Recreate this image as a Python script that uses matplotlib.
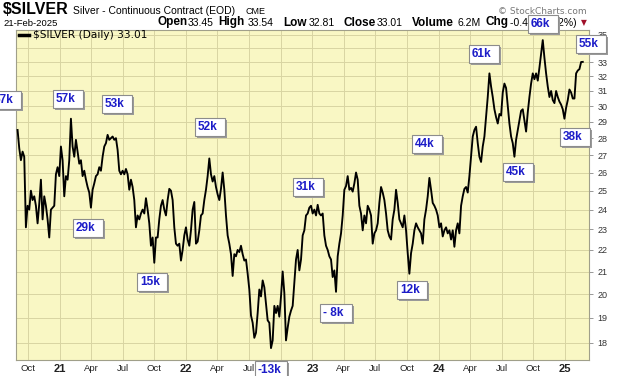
import pandas as pd
import matplotlib
matplotlib.use("Agg")
import matplotlib.pyplot as plt
import matplotlib.dates as mdates
from matplotlib.patches import Rectangle
from matplotlib.lines import Line2D
from matplotlib.ticker import FixedLocator, FixedFormatter, NullLocator, NullFormatter

W, H = 620, 376

# $SILVER daily closes, one value about every 5 calendar days
close_2020_21 = [28.5, 27.4, 26.7, 27.2, 26.9, 23.1, 24.2, 24.0, 25.0, 24.5,
                 24.7, 24.2, 23.3, 24.3, 25.6, 23.5, 24.7, 24.2, 23.5, 22.6,
                 24.0, 24.1, 24.2, 25.9, 26.3, 25.8, 27.5, 26.7, 24.7, 25.8,
                 25.6, 26.7, 29.2, 27.5, 26.9, 27.9, 27.2, 26.5, 26.7, 25.8,
                 26.1, 25.6, 25.2, 24.9, 24.1, 25.05, 25.4, 25.8, 25.9, 26.3,
                 26.1, 26.9, 27.5, 27.7, 28.2, 27.9, 28.0, 28.1, 27.9, 28.0,
                 27.3, 26.1, 25.9, 26.1, 25.9]
close_2021_22 = [26.2, 25.9, 25.05, 25.6, 25.2, 24.5, 23.1, 23.7, 23.5, 23.8,
                 24.0, 23.8, 24.6, 24.0, 23.3, 22.2, 22.6, 21.4, 22.6, 22.6,
                 23.5, 24.2, 24.5, 24.0, 23.7, 24.5, 25.1, 25.0, 24.5, 23.1,
                 22.3, 22.2, 22.3, 21.5, 22.0, 22.7, 23.1, 22.5, 22.2, 22.95,
                 24.0, 24.4, 22.3, 22.4, 22.95, 23.7, 23.8, 24.5, 25.05, 25.8,
                 26.8, 25.9, 25.5, 25.8, 25.2, 24.8, 24.5, 25.1, 26.0, 25.05,
                 23.7, 22.7, 22.3, 21.8, 20.8, 21.8, 21.7, 22.0, 21.9, 22.2,
                 21.8]
close_2022_23 = [21.5, 21.55, 20.9, 20.2, 19.1, 18.8, 18.2, 18.4, 19.2, 20.2,
                 19.9, 20.6, 20.3, 19.6, 18.9, 18.8, 17.8, 18.1, 19.5, 19.2,
                 19.5, 19.05, 19.9, 21.0, 20.05, 18.1, 18.6, 19.05, 19.3, 19.5,
                 20.5, 21.55, 22.0, 21.05, 21.55, 22.7, 22.95, 23.7, 23.8, 24.1,
                 24.2, 23.8, 24.0, 23.7, 24.25, 23.8, 23.7, 23.8, 22.7, 22.2,
                 22.0, 21.7, 21.55, 20.75, 21.05, 20.1, 21.7, 22.3, 22.8, 23.7,
                 25.05, 25.25, 25.8, 25.05, 25.15, 24.95]
close_2023_24 = [25.4, 26.0, 25.6, 24.2, 23.8, 22.95, 23.7, 23.3, 24.2, 24.0,
                 23.7, 22.3, 22.8, 22.95, 23.3, 24.35, 25.2, 24.9, 24.5, 23.8,
                 22.95, 22.65, 22.5, 23.5, 24.0, 25.05, 24.35, 23.5, 23.3, 23.1,
                 23.7, 22.95, 21.85, 20.9, 21.85, 22.3, 22.95, 23.3, 23.1, 22.95,
                 22.8, 22.3, 23.5, 24.0, 24.7, 25.7, 25.05, 24.35, 24.2, 24.0,
                 23.7, 23.1, 23.3, 22.65, 22.95, 23.1, 22.8, 22.95, 22.5, 22.95,
                 22.15, 22.95, 23.3, 22.8, 24.2, 24.7]
close_2024_25 = [25.1, 25.2, 24.9, 25.8, 26.9, 28.1, 28.5, 28.7, 27.7, 26.9,
                 26.6, 27.5, 28.1, 29.3, 30.6, 32.2, 31.3, 30.6, 29.8, 29.3,
                 28.9, 29.5, 29.4, 30.9, 31.5, 31.2, 30.0, 28.9, 28.1, 27.7,
                 26.9, 27.9, 28.5, 29.1, 29.7, 29.8, 29.1, 28.4, 29.6, 30.6,
                 31.5, 32.2, 31.8, 32.2, 31.7, 32.6, 33.6, 34.6, 33.3, 32.2,
                 31.3, 30.6, 31.0, 30.4, 30.2, 31.0, 30.6, 30.3, 30.1, 29.8,
                 29.2, 29.9, 30.4, 31.1, 30.9, 30.5, 30.5, 32.2, 32.4, 32.5,
                 33.0, 33.01]

close = close_2020_21 + close_2021_22 + close_2022_23 + close_2023_24 + close_2024_25
dates = pd.date_range("2020-08-31", "2025-02-21", periods=len(close))

# position boxes pasted on the chart
box_text = ["57k", "57k", "53k", "29k", "15k", "52k", "-13k", "31k",
            "- 8k", "12k", "44k", "61k", "45k", "66k", "38k", "55k"]
box_x = [-9, 53, 102, 73, 137, 195, 255, 293, 320, 397, 412, 469, 503, 528, 560, 576]
box_y = [91, 90, 95, 219, 273, 118, 361, 178, 304, 281, 135, 45, 163, 15, 128, 35]

price_ticks = list(range(18, 36))
quarters = pd.date_range("2020-10-01", "2025-01-01", freq="QS")
quarter_labels = ["%02d" % (d.year % 100) if d.month == 1 else d.strftime("%b") for d in quarters]

plt.rcParams["font.family"] = ["Liberation Sans", "DejaVu Sans"]

fig = plt.figure(figsize=(W / 100, H / 100), dpi=100)
ax = fig.add_axes([15.5 / W, 16 / H, 573.5 / W, 330 / H])
ax.set_facecolor("#f9f7c4")
ax.plot(dates, close, color="black", lw=1.35, zorder=3)

ax.set_yscale("log")
ax.set_ylim(17.35, 35.36)
ax.set_xlim(pd.Timestamp("2020-08-25"), pd.Timestamp("2025-03-11"))

ax.yaxis.set_major_locator(FixedLocator(price_ticks))
ax.yaxis.set_major_formatter(FixedFormatter([str(p) for p in price_ticks]))
ax.yaxis.set_minor_locator(NullLocator())
ax.yaxis.set_minor_formatter(NullFormatter())
ax.yaxis.tick_right()
ax.tick_params(axis="y", length=3, width=0.6, color="#888888", pad=3,
               labelsize=6.5, labelcolor="#333333")

ax.set_xticks(mdates.date2num(quarters.to_pydatetime()))
ax.set_xticklabels(quarter_labels)
ax.tick_params(axis="x", length=0, pad=3, labelsize=6.8, labelcolor="#222222")
for lab, d in zip(ax.get_xticklabels(), quarters):
    if d.month == 1:
        lab.set_fontweight("bold")
        lab.set_fontsize(8)

ax.grid(True, color="#d8d4a2", lw=0.7)
ax.set_axisbelow(True)
for s in ax.spines.values():
    s.set_color("#a09f8a")
    s.set_linewidth(0.8)


def put(x, y, s, **kw):
    return fig.text(x / W, 1 - y / H, s, va="baseline", ha="left", **kw)


# header
put(3, 14, "$SILVER", fontsize=11.5, fontweight="bold")
put(73, 14, "Silver - Continuous Contract (EOD)", fontsize=7.5)
put(245, 14, "CME", fontsize=6.5)
put(3, 25.5, "21-Feb-2025", fontsize=6.8)
put(498, 14, "\u00a9 StockCharts.com", fontsize=6.5, color="#777777", family="DejaVu Sans")

head = [(157, "Open", True), (188, "33.45", False), (218, "High", True), (248, "33.54", False),
        (283, "Low", True), (309, "32.81", False), (343, "Close", True), (377, "33.01", False),
        (412, "Volume", True), (457, "6.2M", False), (486, "Chg", True), (510, "-0.44 (-1.32%)", False)]
for x, s, bold in head:
    if bold:
        put(x, 25.5, s, fontsize=8.5, fontweight="bold")
    else:
        put(x, 25.5, s, fontsize=7.5)
put(581, 25, "\u25bc", fontsize=5.5, color="#a0102a", family="DejaVu Sans")

# legend
fig.add_artist(Line2D([19 / W, 29 / W], [1 - 35 / H, 1 - 35 / H], color="black", lw=2.5))
put(33, 38.5, "$SILVER (Daily) 33.01", fontsize=7.6, family="DejaVu Sans")

# boxes
bh = 18
for t, bx, by in zip(box_text, box_x, box_y):
    bw = 32 if len(t) > 3 else 30
    fig.add_artist(Rectangle(((bx + 2) / W, 1 - (by + bh + 2) / H), bw / W, bh / H,
                             transform=fig.transFigure, facecolor="#9a9a9a",
                             edgecolor="none", zorder=10))
    fig.add_artist(Rectangle((bx / W, 1 - (by + bh) / H), bw / W, bh / H,
                             transform=fig.transFigure, facecolor="white",
                             edgecolor="#8c8c8c", lw=0.8, zorder=11))
    fig.text((bx + 3) / W, 1 - (by + bh / 2) / H, t, ha="left", va="center",
             fontsize=8.5, fontweight="bold", color="#1c1cc8", zorder=12)

fig.savefig("out.png", dpi=100, facecolor="white")
